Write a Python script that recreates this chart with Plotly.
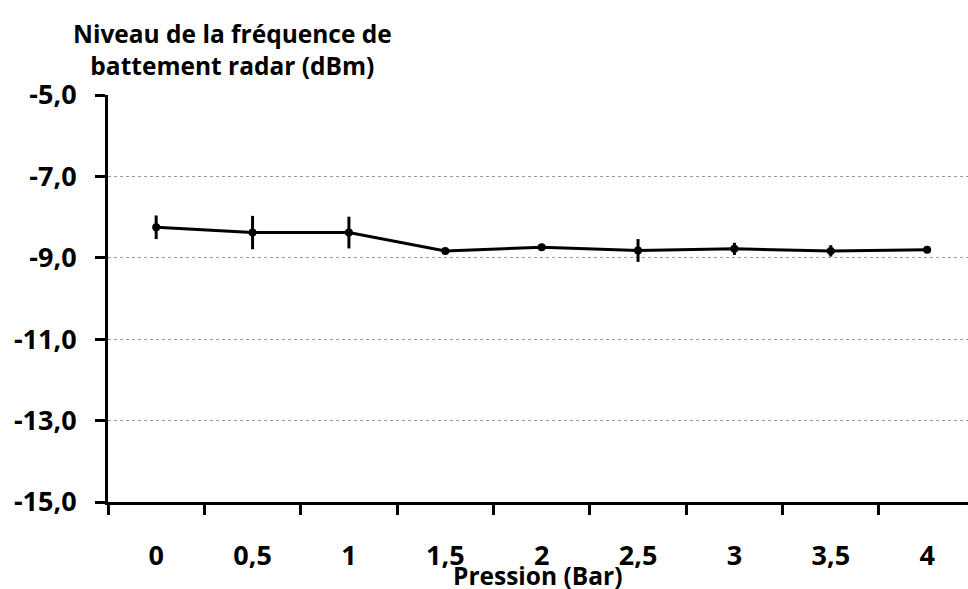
import plotly.graph_objects as go

pressure_labels = ["0", "0,5", "1", "1,5", "2", "2,5", "3", "3,5", "4"]
level_dbm = [-8.25, -8.38, -8.38, -8.83, -8.74, -8.82, -8.78, -8.83, -8.80]
level_err = [0.29, 0.41, 0.39, 0.04, 0.03, 0.28, 0.15, 0.14, 0.04]
y_ticks = [-15, -13, -11, -9, -7, -5]
y_tick_text = ["-15,0", "-13,0", "-11,0", "-9,0", "-7,0", "-5,0"]

FONT = "Open Sans"
FS = 24.5
TFS = 27

fig = go.Figure()
fig.add_trace(go.Scatter(
    x=pressure_labels, y=level_dbm,
    mode="lines+markers",
    line=dict(color="black", width=3),
    marker=dict(color="black", size=8),
    error_y=dict(type="data", array=level_err, visible=True,
                 color="black", thickness=3, width=0),
    showlegend=False,
))

fig.update_layout(
    width=968, height=589,
    paper_bgcolor="white", plot_bgcolor="white",
    margin=dict(l=108, r=0, t=95, b=87, autoexpand=False),
    font=dict(family=FONT, size=FS, color="black"),
    xaxis=dict(
        type="category",
        range=[-0.5, 8.424],
        automargin=False,
        showline=True, linecolor="black", linewidth=3,
        ticks="outside", tickson="boundaries", ticklen=10, tickwidth=3, tickcolor="black",
        showgrid=False, zeroline=False,
        tickfont=dict(family=FONT, size=TFS, color="black", weight="bold"),
        ticklabelstandoff=28,
    ),
    yaxis=dict(
        range=[-15, -5],
        automargin=False,
        tickvals=y_ticks, ticktext=y_tick_text,
        showline=True, linecolor="black", linewidth=3,
        ticks="outside", ticklen=10, tickwidth=3, tickcolor="black",
        showgrid=True, gridcolor="#9a9a9a", gridwidth=1, griddash="dot",
        zeroline=False,
        tickfont=dict(family=FONT, size=TFS, color="black", weight="bold"),
        ticklabelstandoff=13,
    ),
    annotations=[
        dict(text="<b>Niveau de la fréquence de<br>battement radar (dBm)</b>",
             xref="paper", yref="paper", x=(232 - 108) / 860, y=(589 - 49 - 87) / 407,
             xanchor="center", yanchor="middle", showarrow=False,
             font=dict(family=FONT, size=FS, color="black")),
        dict(text="<b>Pression (Bar)</b>",
             xref="paper", yref="paper", x=(537 - 108) / 860, y=-(575 - 502) / 407,
             xanchor="center", yanchor="middle", showarrow=False,
             font=dict(family=FONT, size=FS, color="black")),
    ],
)

fig.write_html(
    "out.html",
    config={"displayModeBar": False},
    post_script="document.body.style.margin='0';document.body.style.overflow='hidden';",
)
